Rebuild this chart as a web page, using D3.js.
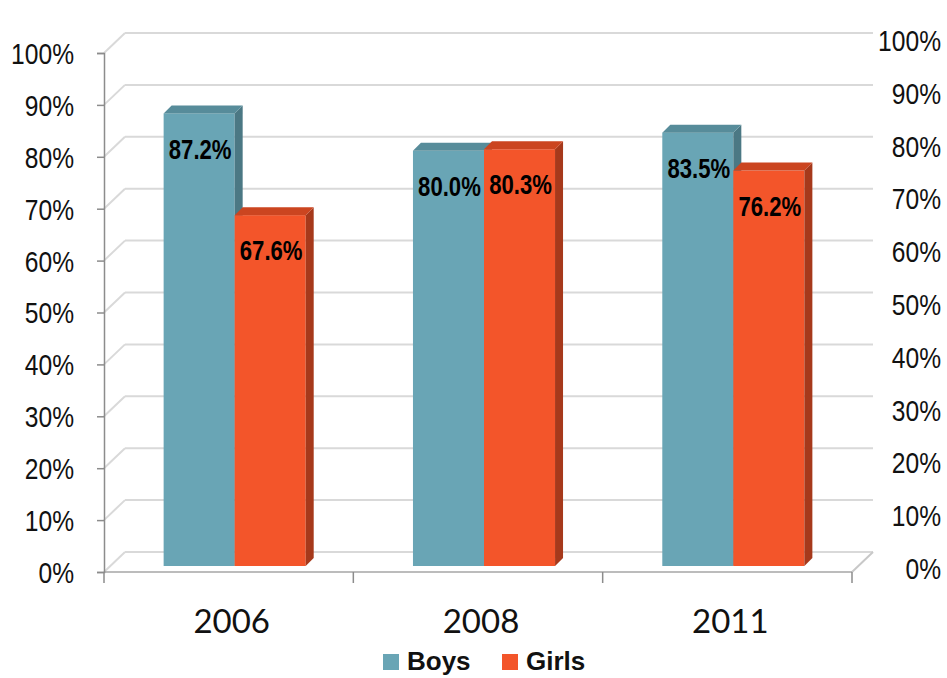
<!DOCTYPE html>
<html>
<head>
<meta charset="utf-8">
<script src="https://cdn.jsdelivr.net/npm/d3@7"></script>
<style>
  html, body { margin: 0; padding: 0; background: #fff; }
  svg { display: block; }
</style>
</head>
<body>
<svg id="chart" width="947" height="678"></svg>
<script>
// Survey years and the share per group
const categories = ["2006", "2008", "2011"];
const seriesNames = ["Boys", "Girls"];
const boys = [0.872, 0.800, 0.835];
const girls = [0.676, 0.803, 0.762];
const tickValues = [0, 0.1, 0.2, 0.3, 0.4, 0.5, 0.6, 0.7, 0.8, 0.9, 1.0];

const colors = {
  Boys:  { front: "#69a5b5", top: "#578c9a", side: "#4b7884" },
  Girls: { front: "#f3552a", top: "#cb4520", side: "#a6391b" }
};

const svg = d3.select("#chart");
const sans = "'Liberation Sans', Arial, sans-serif";
const narrowScale = 0.82; // condensed face drawn by squeezing the regular one

// Front plane of the plot box
const x0 = d3.scaleBand().domain(categories).range([104, 852]).padding(0);
const y = d3.scaleLinear().domain([0, 1]).range([572, 53]);
const yRight = d3.scaleLinear().domain([0, 1]).range([571, 43]);

// Depth of the walls, of the bar plane and of each bar
const wall = { dx: 21, dy: -20 };
const barPlane = { dx: 6, dy: -6 };
const barDepth = { dx: 8, dy: -8 };

const x1 = d3.scaleBand().domain(seriesNames)
  .range([0, x0.bandwidth()]).paddingInner(0).paddingOuter(0.755);

function narrowText(sel, px, py) {
  return sel.append("text")
    .attr("transform", `translate(${px},${py}) scale(${narrowScale},1)`)
    .attr("font-family", sans);
}

// Side wall and back wall gridlines
const grid = svg.append("g");
tickValues.forEach(v => {
  const yf = y(v);
  grid.append("line")
    .attr("x1", x0.range()[0]).attr("y1", yf)
    .attr("x2", x0.range()[0] + wall.dx).attr("y2", yf + wall.dy)
    .attr("stroke", "#d9d9d9").attr("stroke-width", 2);
  grid.append("line")
    .attr("x1", x0.range()[0] + wall.dx).attr("y1", yf + wall.dy)
    .attr("x2", x0.range()[1] + wall.dx).attr("y2", yf + wall.dy)
    .attr("stroke", "#d9d9d9").attr("stroke-width", 2);
});
// Floor: right edge and front edge
grid.append("line")
  .attr("x1", x0.range()[1]).attr("y1", y(0))
  .attr("x2", x0.range()[1] + wall.dx).attr("y2", y(0) + wall.dy)
  .attr("stroke", "#c8c8c8").attr("stroke-width", 2);
grid.append("line")
  .attr("x1", x0.range()[0]).attr("y1", y(0))
  .attr("x2", x0.range()[1]).attr("y2", y(0))
  .attr("stroke", "#a6a6a6").attr("stroke-width", 1.5);

// Left value axis
const yAxis = d3.axisLeft(y).tickValues(tickValues).tickSize(7).tickFormat("");
const gy = svg.append("g").attr("transform", `translate(${x0.range()[0]},0)`).call(yAxis);
gy.select(".domain").attr("stroke", "#8c8c8c").attr("stroke-width", 1.5);
gy.selectAll(".tick line").attr("stroke", "#8c8c8c").attr("stroke-width", 1.5);

const pct0 = d3.format(".0%");
const leftLabels = svg.append("g");
tickValues.forEach(v => {
  narrowText(leftLabels, 74, y(v) + 3)
    .attr("text-anchor", "end").attr("dominant-baseline", "middle")
    .attr("font-size", 30).attr("fill", "#111")
    .text(pct0(v));
});
const rightLabels = svg.append("g");
tickValues.forEach(v => {
  narrowText(rightLabels, 941, yRight(v))
    .attr("text-anchor", "end").attr("dominant-baseline", "middle")
    .attr("font-size", 30).attr("fill", "#111")
    .text(pct0(v));
});

// Category axis ticks at band boundaries
const boundaries = categories.map(c => x0(c)).concat([x0.range()[1]]);
svg.append("g").selectAll("line").data(boundaries).join("line")
  .attr("x1", d => d).attr("x2", d => d)
  .attr("y1", y(0)).attr("y2", y(0) + 11)
  .attr("stroke", "#8c8c8c").attr("stroke-width", 1.5);

svg.append("g").selectAll("text").data(categories).join("text")
  .attr("x", d => x0(d) + x0.bandwidth() / 2 + 3)
  .attr("y", 625)
  .attr("text-anchor", "middle").attr("dominant-baseline", "middle")
  .attr("font-family", "Lato, 'Open Sans', sans-serif").attr("font-size", 33)
  .attr("fill", "#111")
  .text(d => d);

// 3D bars
const rows = [];
categories.forEach((c, i) => {
  rows.push({ cat: c, key: "Boys", value: boys[i] });
  rows.push({ cat: c, key: "Girls", value: girls[i] });
});

const pct1 = d3.format(".1%");
const bars = svg.append("g");
rows.forEach(d => {
  const xl = x0(d.cat) + x1(d.key) + barPlane.dx;
  const w = x1.bandwidth();
  const top = y(d.value) + barPlane.dy;
  const base = y(0) + barPlane.dy;
  const c = colors[d.key];
  const g = bars.append("g");
  g.append("rect")
    .attr("x", xl).attr("y", top).attr("width", w).attr("height", base - top)
    .attr("fill", c.front);
  g.append("polygon")
    .attr("points", [
      [xl + w, top], [xl + w + barDepth.dx, top + barDepth.dy],
      [xl + w + barDepth.dx, base + barDepth.dy], [xl + w, base]
    ].map(p => p.join(",")).join(" "))
    .attr("fill", c.side);
  g.append("polygon")
    .attr("points", [
      [xl, top], [xl + barDepth.dx, top + barDepth.dy],
      [xl + w + barDepth.dx, top + barDepth.dy], [xl + w, top]
    ].map(p => p.join(",")).join(" "))
    .attr("fill", c.top);
  narrowText(g, xl + w / 2 + 1, top + 38)
    .attr("text-anchor", "middle").attr("dominant-baseline", "middle")
    .attr("font-weight", "bold").attr("font-size", 27)
    .attr("fill", "#000")
    .text(pct1(d.value));
});

// Legend
const legend = svg.append("g");
const legendItems = [{ key: "Boys", x: 383 }, { key: "Girls", x: 502 }];
legendItems.forEach(item => {
  legend.append("rect")
    .attr("x", item.x).attr("y", 654).attr("width", 16).attr("height", 16)
    .attr("fill", colors[item.key].front);
  legend.append("text")
    .attr("x", item.x + 24).attr("y", 663)
    .attr("dominant-baseline", "middle")
    .attr("font-family", sans)
    .attr("font-weight", "bold").attr("font-size", 26).attr("fill", "#111")
    .text(item.key);
});
</script>
</body>
</html>
